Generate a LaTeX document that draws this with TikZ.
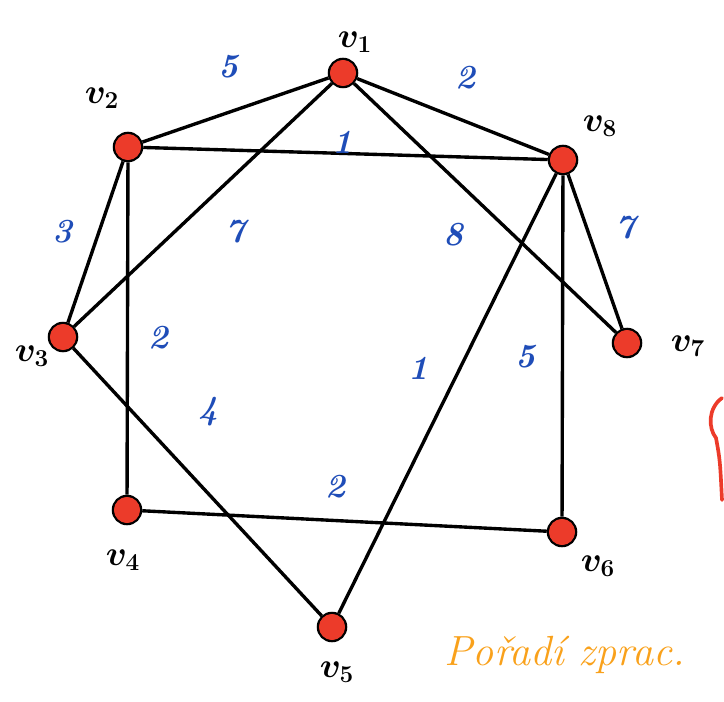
\documentclass[tikz,border=0pt]{standalone}
\usepackage{fontspec}
\usepackage{tikz}
\usetikzlibrary{positioning}
\definecolor{DotRed}{HTML}{EC3B2A}
\definecolor{WeightBlue}{HTML}{1F4DB8}
\definecolor{NoteOrange}{HTML}{F9A11B}
\tikzset{
  vertex/.style={circle,draw=black,line width=1.8pt,fill=DotRed,minimum size=7mm,inner sep=0pt},
  edge/.style={line width=2.4pt,draw=black},
  weight/.style={text=WeightBlue,font=\fontsize{24}{26}\selectfont\bfseries\itshape},
  vname/.style={font=\fontsize{27}{29}\selectfont\boldmath},
  note/.style={text=NoteOrange,font=\fontsize{30}{32}\selectfont\itshape}
}
\begin{document}
\begin{tikzpicture}[x=0.025cm,y=-0.025cm]
  \useasboundingbox (0,0) rectangle (724,702);
  % vertices
  \node[vertex] (v1) at (343,73) {};
  \node[vertex] (v2) at (128,147) {};
  \node[vertex] (v8) at (563,160) {};
  \node[vertex] (v3) at (63,337) {};
  \node[vertex] (v7) at (627,343) {};
  \node[vertex] (v4) at (127,510) {};
  \node[vertex] (v6) at (562,532) {};
  \node[vertex] (v5) at (332,627) {};
  % edges
  \draw[edge] (v1) -- (v2);
  \draw[edge] (v1) -- (v8);
  \draw[edge] (v1) -- (v3);
  \draw[edge] (v1) -- (v7);
  \draw[edge] (v2) -- (v8);
  \draw[edge] (v2) -- (v3);
  \draw[edge] (v2) -- (v4);
  \draw[edge] (v8) -- (v7);
  \draw[edge] (v8) -- (v5);
  \draw[edge] (v8) -- (v6);
  \draw[edge] (v3) -- (v5);
  \draw[edge] (v4) -- (v6);
  % redraw dots on top
  \foreach \v in {v1,v2,v3,v4,v5,v6,v7,v8}
    \fill[DotRed] (\v) circle[radius=13];
  % vertex names
  \node[vname] (n1) at (355,42) {$v_1$};
  \node[vname] (n2) at (102,98) {$v_2$};
  \node[vname] (n8) at (600,126) {$v_8$};
  \node[vname] (n3) at (32,356) {$v_3$};
  \node[vname] (n7) at (688,346) {$v_7$};
  \node[vname] (n4) at (123,560) {$v_4$};
  \node[vname] (n6) at (598,566) {$v_6$};
  \node[vname] (n5) at (337,672) {$v_5$};
  % weights
  \node[weight] (w12) at (228,67) {5};
  \node[weight] (w18) at (465,78) {2};
  \node[weight] (w28) at (342,142) {1};
  \node[weight] (w23) at (62,232) {3};
  \node[weight] (w13) at (235,232) {7};
  \node[weight] (w17) at (453,235) {8};
  \node[weight] (w87) at (625,228) {7};
  \node[weight] (w24) at (158,338) {2};
  \node[weight] (w85) at (418,368) {1};
  \node[weight] (w86) at (525,357) {5};
  \node[weight] (w35) at (208,412) {4};
  \node[weight] (w46) at (335,487) {2};
  % note
  \node[note,anchor=west] (order) at (440,655) {Pořadí zprac.};
  \draw[DotRed,line width=2.6pt,line cap=round] (722,398) .. controls (708,408) and (708,428) .. (716,438) .. controls (720,460) .. (722,500);
\end{tikzpicture}
\end{document}
